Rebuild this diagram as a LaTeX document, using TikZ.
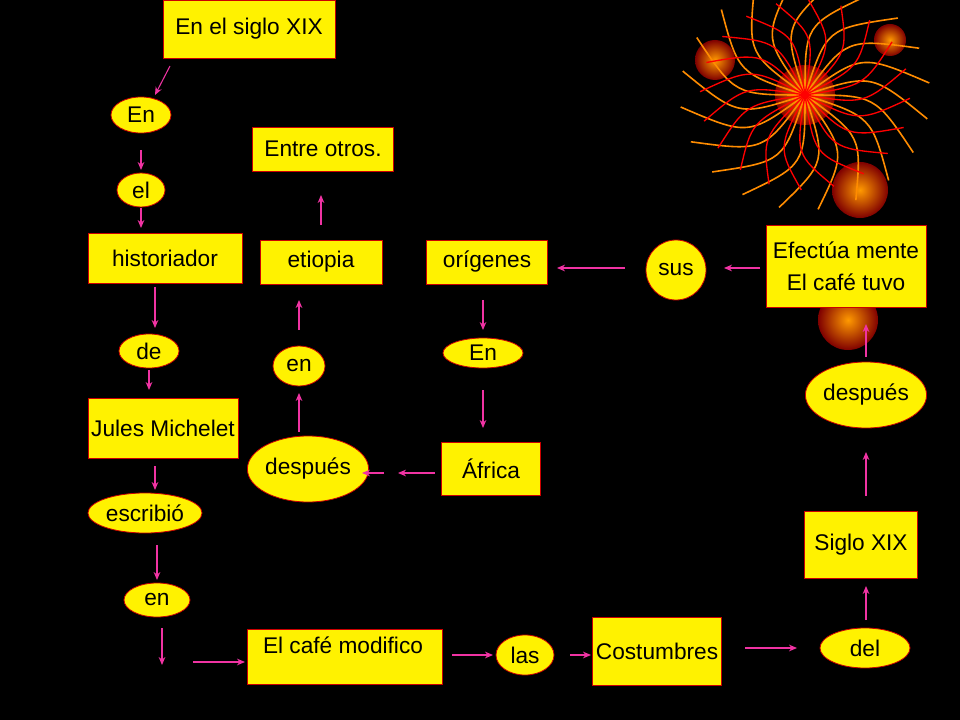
\documentclass[tikz,border=0pt]{standalone}
\usepackage{fontspec}
\setmainfont{Liberation Sans}
\usetikzlibrary{shapes.geometric,arrows.meta}
\begin{document}
\begin{tikzpicture}[x=0.75pt,y=-0.75pt,
 sz/.style 2 args={minimum width=#1*0.75pt,minimum height=#2*0.75pt},
 bx/.style={draw=red!80!black,fill=yellow,line width=0.6pt,inner sep=0,align=center,font=\fontsize{17}{24}\selectfont},
 el/.style={ellipse,draw=red!80!black,fill=yellow,line width=0.6pt,inner sep=0,font=\fontsize{17}{24}\selectfont},
 ar/.style={draw=magenta!80!white,line width=0.8pt,-{Stealth[length=6pt,width=5pt]}}]
\fill[black] (0,0) rectangle (960,720);
\useasboundingbox (0,0) rectangle (960,720);
% fireworks decoration
\foreach \x/\y/\r in {805/95/30,715/60/20,860/190/28,848/320/30,890/40/16}
  \shade[inner color=orange!80!yellow,outer color=red!50!black] (\x,\y) circle (\r);
\foreach \a in {0,18,...,342}
  \draw[orange!90!yellow,line width=1.2pt] (805,95) .. controls ({805+70*cos(\a)},{95+70*sin(\a)}) .. ({805+125*cos(\a+30)},{95+115*sin(\a+30)});
\foreach \a in {9,27,...,351}
  \draw[red,line width=1pt] (805,95) .. controls ({805+60*cos(\a)},{95+60*sin(\a)}) .. ({805+105*cos(\a-25)},{95+95*sin(\a-25)});
% nodes
\node[bx,sz={172}{58}] (n1) at (249,29) {En el siglo XIX};
\node[el,sz={60}{36}] (n2) at (141,115) {En};
\node[el,sz={48}{34}] (n3) at (141,190) {el};
\node[bx,sz={154}{50}] (n4) at (165,258) {historiador};
\node[el,sz={60}{34}] (n5) at (149,351) {de};
\node[bx,sz={150}{60}] (n6) at (163,428) {Jules Michelet};
\node[el,sz={114}{40}] (n7) at (145,513) {escribió};
\node[el,sz={66}{34}] (n8) at (157,600) {en};
\node[bx,sz={195}{55}] (n9) at (345,657) {};
\node at (343,645) {\fontsize{17}{24}\selectfont El café modifico};
\node[el,sz={58}{40}] (n10) at (525,655) {las};
\node[bx,sz={129}{68}] (n11) at (657,651) {Costumbres};
\node[el,sz={90}{40}] (n12) at (865,648) {del};
\node[bx,sz={113}{67}] (n13) at (861,545) {Siglo XIX};
\node[el,sz={90}{66}] (n14) at (866,395) {después};
\node[bx,sz={160}{82}] (n15) at (846,266) {Efectúa mente\\El café tuvo};
\node[el,sz={60}{60}] (n16) at (676,270) {sus};
\node[bx,sz={121}{44}] (n17) at (487,262) {orígenes};
\node[el,sz={80}{30}] (n18) at (483,353) {En};
\node[bx,sz={99}{53}] (n19) at (491,469) {África};
\node[el,sz={100}{66}] (n20) at (308,469) {después};
\node[el,sz={52}{40}] (n21) at (299,366) {en};
\node[bx,sz={122}{44}] (n22) at (321,262) {etiopia};
\node[bx,sz={141}{44}] (n23) at (323,149) {Entre otros.};
% connectors
\draw[ar] (170,66) -- (155,95);
\draw[ar] (141,150) -- (141,170);
\draw[ar] (141,208) -- (141,228);
\draw[ar] (155,287) -- (155,328);
\draw[ar] (149,370) -- (149,390);
\draw[ar] (155,466) -- (155,490);
\draw[ar] (157,545) -- (157,580);
\draw[ar] (162,628) -- (162,665);
\draw[ar] (193,662) -- (245,662);
\draw[ar] (452,655) -- (493,655);
\draw[ar] (570,655) -- (591,655);
\draw[ar] (745,648) -- (797,648);
\draw[ar] (866,620) -- (866,586);
\draw[ar] (866,496) -- (866,452);
\draw[ar] (866,357) -- (866,324);
\draw[ar] (760,268) -- (724,268);
\draw[ar] (625,268) -- (557,268);
\draw[ar] (483,300) -- (483,330);
\draw[ar] (483,390) -- (483,428);
\draw[ar] (435,473) -- (398,473);
\draw[ar] (384,473) -- (362,473);
\draw[ar] (299,432) -- (299,393);
\draw[ar] (299,330) -- (299,300);
\draw[ar] (321,225) -- (321,195);
\end{tikzpicture}
\end{document}
